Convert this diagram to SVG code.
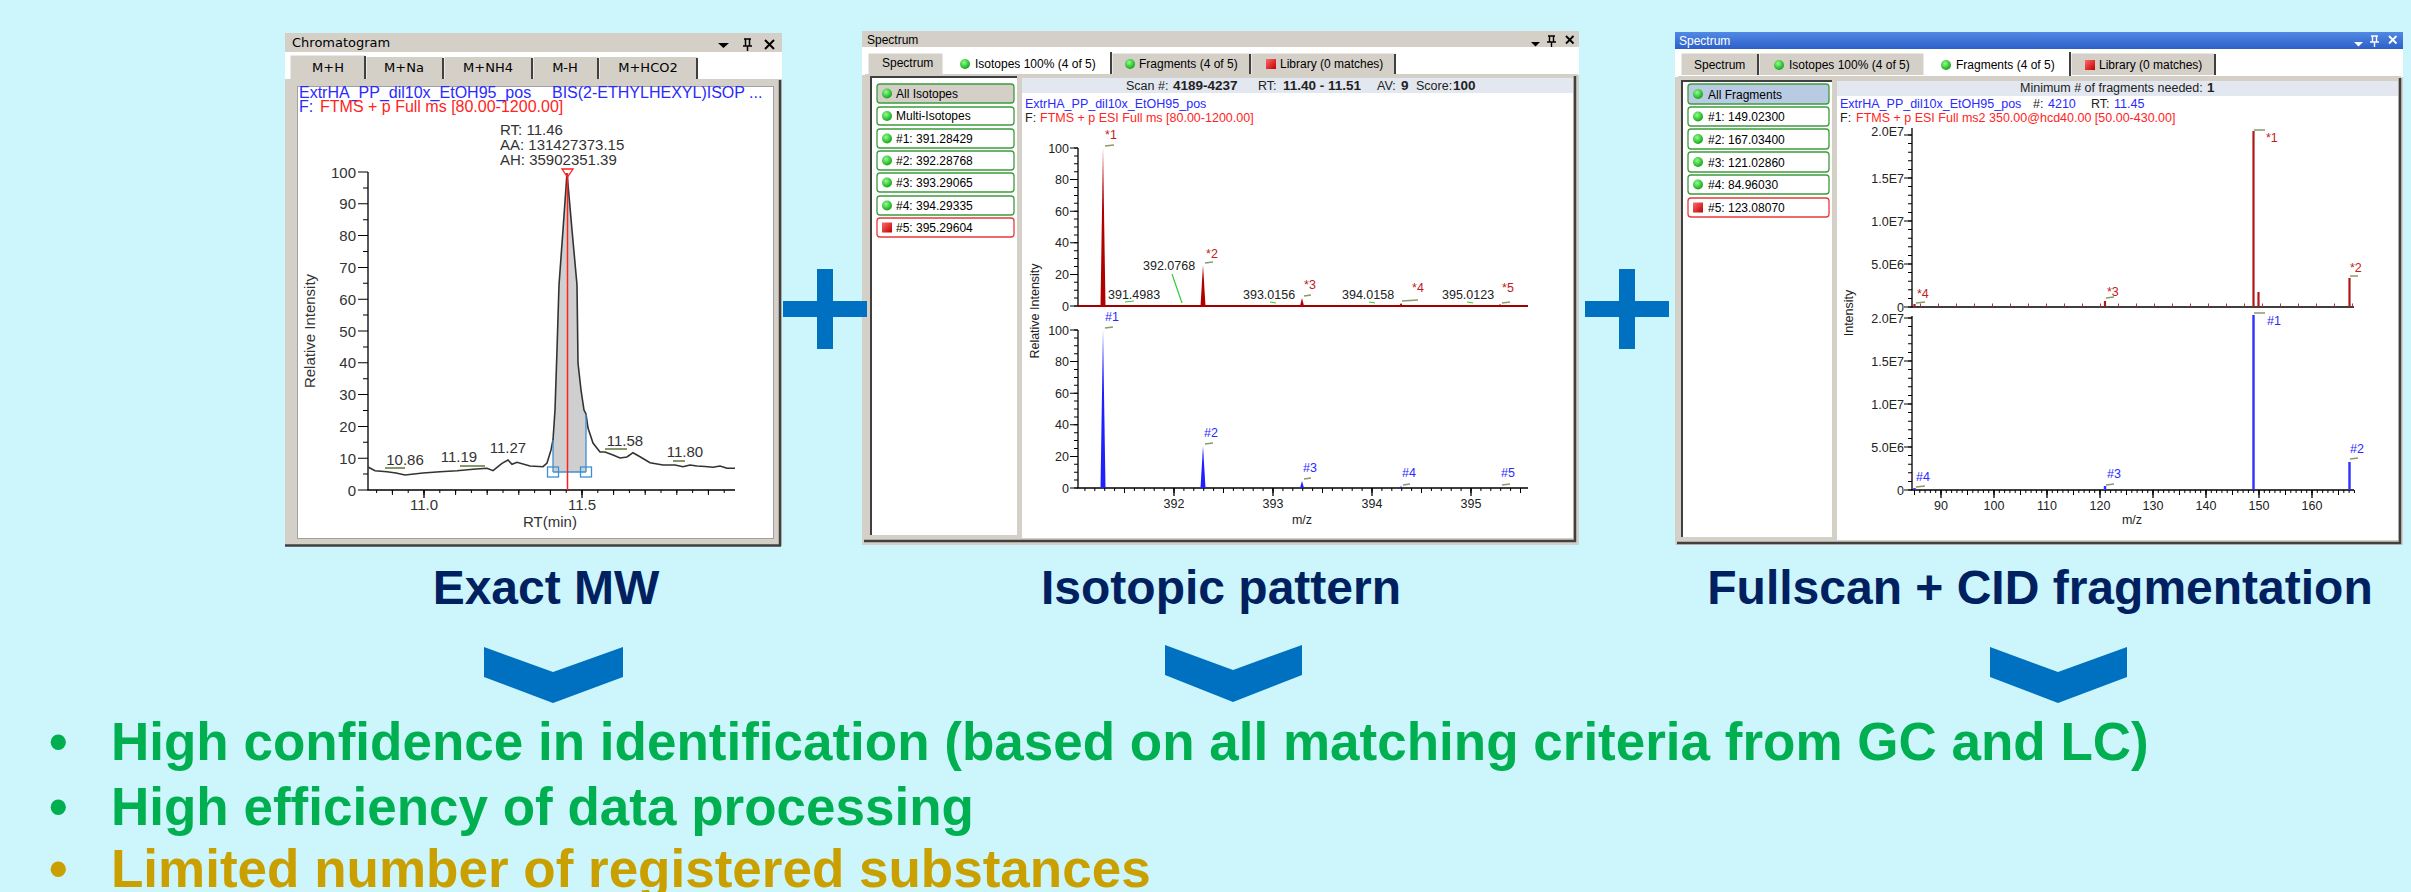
<svg xmlns="http://www.w3.org/2000/svg" width="2411" height="892" viewBox="0 0 2411 892">
<defs>
<style>
.ui{font-family:"Liberation Sans",Arial,sans-serif;font-size:12px;fill:#000}
.ui1{font-family:"DejaVu Sans",Verdana,sans-serif;font-size:13px;fill:#000}
.c1{font-family:"Liberation Sans",Arial,sans-serif;font-size:15px;fill:#333}
.c1b{font-family:"Liberation Sans",Arial,sans-serif;font-size:16px}
.c2{font-family:"Liberation Sans",Arial,sans-serif;font-size:12.5px;fill:#222}
.bd{font-weight:bold;font-size:13.5px}
.blue{fill:#2a2aff}
.red{fill:#ff2424}
.dred{fill:#c41a1a}
.mid{text-anchor:middle}
.end{text-anchor:end}
.head{font-family:"Liberation Sans",Arial,sans-serif;font-weight:bold;font-size:48px;fill:#002060;text-anchor:middle}
.bul{font-family:"Liberation Sans",Arial,sans-serif;font-weight:bold;font-size:53px}
.frame{fill:#d4d0c8}
.ax{stroke:#000;stroke-width:1.3;fill:none}
.tk{stroke:#000;fill:none}
.item{fill:#fff;stroke:#3c9c3c;stroke-width:1.3}
.itemr{fill:#fff;stroke:#e83a3a;stroke-width:1.3}
.mk{stroke:#8a9a6a;stroke-width:1.5;fill:none}
.gl{stroke:#3c3;stroke-width:1.2;fill:none}
.sep{stroke:#404040;stroke-width:2}
.blueshape{fill:#0070c0}
</style>
<radialGradient id="gdot" cx="0.4" cy="0.35" r="0.7"><stop offset="0" stop-color="#8cff8c"/><stop offset="1" stop-color="#0ca00c"/></radialGradient>
<linearGradient id="rsq" x1="0" y1="0" x2="1" y2="1"><stop offset="0" stop-color="#ff6a6a"/><stop offset="1" stop-color="#c00000"/></linearGradient>
<linearGradient id="tbar" x1="0" y1="0" x2="0" y2="1"><stop offset="0" stop-color="#5289e4"/><stop offset="1" stop-color="#2d60c8"/></linearGradient>
<circle id="gd" r="5" fill="url(#gdot)"/>
<rect id="rs" width="10" height="10" fill="url(#rsq)"/>
</defs>
<rect width="2411" height="892" fill="#ccf5fc"/>

<!-- ============ PANEL 1: CHROMATOGRAM ============ -->
<g id="panel-chromatogram">
<rect x="285" y="33" width="497" height="513" class="frame"/>
<rect x="285" y="52" width="497" height="27" fill="#fff"/>
<text x="292" y="47" class="ui1">Chromatogram</text>
<path d="M718 43 h11 l-5.5 5 z" fill="#000"/>
<path d="M744 39 h7 M745.5 39 v7 M749.5 39 v7 M743 46 h9 M747.5 46 v5" stroke="#000" stroke-width="1.5" fill="none"/>
<path d="M765 40 l9 9 M774 40 l-9 9" stroke="#000" stroke-width="2"/>
<rect x="290" y="55" width="75" height="26" class="frame"/>
<rect x="366" y="57" width="77" height="22" class="frame"/>
<rect x="444" y="57" width="88" height="22" class="frame"/>
<rect x="533" y="57" width="65" height="22" class="frame"/>
<rect x="599" y="57" width="98" height="22" class="frame"/>
<path d="M290 81 V55 H365 M366 79 V57 M444 79 V57 M533 79 V57 M599 79 V57" stroke="#fff" stroke-width="1" fill="none"/>
<path d="M365 56 V79 M443 58 V79 M532 58 V79 M598 58 V79 M697 58 V79" class="sep"/>
<text x="328" y="72" class="ui1 mid">M+H</text>
<text x="404" y="72" class="ui1 mid">M+Na</text>
<text x="488" y="72" class="ui1 mid">M+NH4</text>
<text x="565" y="72" class="ui1 mid">M-H</text>
<text x="648" y="72" class="ui1 mid">M+HCO2</text>
<rect x="288" y="79" width="492" height="466" class="frame"/>
<rect x="297.5" y="86.5" width="476" height="452" fill="#fff" stroke="#a0a0a0"/>
<path d="M780 80 V546 M285 545.5 H781" stroke="#404040" stroke-width="2.5"/>
<text x="299" y="98" class="c1b blue">ExtrHA_PP_dil10x_EtOH95_pos</text>
<text x="552" y="98" class="c1b blue">BIS(2-ETHYLHEXYL)ISOP ...</text>
<text x="299" y="112" class="c1b blue">F:</text>
<text x="320" y="112" class="c1b red">FTMS + p Full ms [80.00-1200.00]</text>
<text x="500" y="135" class="c1">RT: 11.46</text>
<text x="500" y="150" class="c1">AA: 131427373.15</text>
<text x="500" y="165" class="c1">AH: 35902351.39</text>
<path d="M368 172 V490 H735" class="ax"/>
<line x1="363" y1="171.5" x2="363" y2="491" class="tk" stroke-width="10" stroke-dasharray="1 30.8"/>
<line x1="365.5" y1="187.4" x2="365.5" y2="476" class="tk" stroke-width="5" stroke-dasharray="1 30.8"/>
<line x1="376.1" y1="491.5" x2="725" y2="491.5" class="tk" stroke-width="3" stroke-dasharray="1 14.8"/>
<line x1="391.9" y1="492.5" x2="710" y2="492.5" class="tk" stroke-width="5" stroke-dasharray="1 30.6"/>
<path d="M424 490 V498 M582 490 V498" class="tk" stroke-width="1.3"/>
<g class="c1 end">
<text x="356" y="177.5">100</text><text x="356" y="209.3">90</text><text x="356" y="241">80</text>
<text x="356" y="273">70</text><text x="356" y="304.7">60</text><text x="356" y="336.5">50</text>
<text x="356" y="368.3">40</text><text x="356" y="400">30</text><text x="356" y="432">20</text>
<text x="356" y="463.7">10</text><text x="356" y="495.5">0</text>
</g>
<text x="424" y="510" class="c1 mid">11.0</text>
<text x="582" y="510" class="c1 mid">11.5</text>
<text x="550" y="527" class="c1 mid">RT(min)</text>
<text transform="translate(315 331) rotate(-90)" class="c1 mid">Relative Intensity</text>
<polygon points="553,472 553,440 555,410 557,350 559,285 563,230 567,173 572,230 577,285 578,363 581,390 584,410 586,414 586,472" fill="#cfcfcf"/>
<polyline points="368,467 375,470.7 387,471.7 396,473 405,475 414,474 423,473 440,471.7 457,470.7 473,469.3 487,468.3 493,470.7 502,463.3 508,460 512,464.3 517,462.3 530,466 543,466.7 547,463 551,450 553,440 555,410 557,350 559,285 563,230 567,173 572,230 577,285 578,363 581,390 584,410 586,414 588,428 593,443 600,452 605,452 613,455 620,458 627,457 633,452.7 640,456.7 650,462.7 663,465 675,465 683,466.7 690,465 697,466 705,466.5 713,467.3 720,466 727,468.3 735,468.3" fill="none" stroke="#333" stroke-width="1.6"/>
<path d="M553 472 H586 M553 472 V440 M586 472 V414" stroke="#3d8fd6" stroke-width="1.3" fill="none"/>
<rect x="547.5" y="467" width="11" height="10" fill="none" stroke="#3d8fd6" stroke-width="1.3"/>
<rect x="580.5" y="467" width="11" height="10" fill="none" stroke="#3d8fd6" stroke-width="1.3"/>
<line x1="567.5" y1="173" x2="567.5" y2="490" stroke="#ff2020" stroke-width="1.5"/>
<polygon points="562,169 573,169 567.5,177" fill="none" stroke="#ff2020" stroke-width="1.3"/>
<text x="405" y="465" class="c1 mid">10.86</text>
<text x="459" y="462" class="c1 mid">11.19</text>
<text x="508" y="453" class="c1 mid">11.27</text>
<text x="625" y="446" class="c1 mid">11.58</text>
<text x="685" y="457" class="c1 mid">11.80</text>
<path d="M385 468 H405 M460 466 H485 M605 449 H627 M673 461 H685" stroke="#5c7a3a" stroke-width="1.3" fill="none"/>
</g>

<!-- ============ PANEL 2: ISOTOPES ============ -->
<g id="panel-isotopes">
<rect x="862" y="31" width="717" height="514" class="frame"/>
<rect x="862" y="47" width="717" height="28" fill="#fff"/>
<text x="867" y="44" class="ui">Spectrum</text>
<path d="M1531 42 h9 l-4.5 4.5 z" fill="#000"/>
<path d="M1548 36 h7 M1549.5 36 v6 M1553.5 36 v6 M1547 42 h9 M1551.5 42 v5" stroke="#000" stroke-width="1.4" fill="none"/>
<path d="M1566 36 l7.5 7.5 M1573.5 36 l-7.5 7.5" stroke="#000" stroke-width="1.8"/>
<rect x="868" y="53" width="75" height="21" class="frame"/>
<rect x="1111" y="53" width="139" height="21" class="frame"/>
<rect x="1250" y="53" width="145" height="21" class="frame"/>
<rect x="943" y="51" width="168" height="25" fill="#fff"/>
<path d="M868 74 V53 H943 M943 76 V51 H1111 M1112 74 V53 H1250 M1251 74 V53 H1395" stroke="#fff" fill="none"/>
<path d="M1111 52 V75 M1250 54 V74 M1395 54 V74" class="sep"/>
<text x="882" y="67" class="ui">Spectrum</text>
<use href="#gd" x="965" y="64"/>
<text x="975" y="68" class="ui">Isotopes 100% (4 of 5)</text>
<use href="#gd" x="1130" y="64"/>
<text x="1139" y="68" class="ui">Fragments (4 of 5)</text>
<use href="#rs" x="1266" y="59"/>
<text x="1280" y="68" class="ui">Library (0 matches)</text>
<rect x="865" y="74" width="713" height="470" class="frame"/>
<rect x="872" y="78" width="145" height="457" fill="#fff"/>
<path d="M871 535 V77 H1017" stroke="#404040" stroke-width="2" fill="none"/>
<rect x="1022" y="78" width="551" height="460" fill="#fff"/>
<path d="M1575 76 V541 H864" stroke="#404040" stroke-width="2.5" fill="none"/>
<rect x="877" y="84" width="137" height="19" rx="3" fill="#d4d0c8" stroke="#3c9c3c" stroke-width="1.3"/>
<rect x="877" y="107" width="137" height="18" rx="3" class="item"/>
<rect x="877" y="129" width="137" height="19" rx="3" class="item"/>
<rect x="877" y="151" width="137" height="19" rx="3" class="item"/>
<rect x="877" y="173" width="137" height="19" rx="3" class="item"/>
<rect x="877" y="196" width="137" height="19" rx="3" class="item"/>
<rect x="877" y="218" width="137" height="19" rx="3" class="itemr"/>
<use href="#gd" x="887" y="93.5"/><use href="#gd" x="887" y="116"/><use href="#gd" x="887" y="138.5"/>
<use href="#gd" x="887" y="160.5"/><use href="#gd" x="887" y="182.5"/><use href="#gd" x="887" y="205.5"/>
<use href="#rs" x="882" y="222.5"/>
<text x="896" y="98" class="ui">All Isotopes</text>
<text x="896" y="120" class="ui">Multi-Isotopes</text>
<text x="896" y="143" class="ui">#1: 391.28429</text>
<text x="896" y="165" class="ui">#2: 392.28768</text>
<text x="896" y="187" class="ui">#3: 393.29065</text>
<text x="896" y="210" class="ui">#4: 394.29335</text>
<text x="896" y="232" class="ui">#5: 395.29604</text>
<rect x="1022" y="78" width="551" height="15" fill="#e3e7ef"/>
<text x="1126" y="90" class="c2">Scan #:</text>
<text x="1173" y="90" class="c2 bd">4189-4237</text>
<text x="1258" y="90" class="c2">RT:</text>
<text x="1283" y="90" class="c2 bd">11.40 - 11.51</text>
<text x="1377" y="90" class="c2">AV:</text>
<text x="1401" y="90" class="c2 bd">9</text>
<text x="1416" y="90" class="c2">Score:</text>
<text x="1453" y="90" class="c2 bd">100</text>
<text x="1025" y="108" class="c2 blue">ExtrHA_PP_dil10x_EtOH95_pos</text>
<text x="1025" y="122" class="c2">F:</text>
<text x="1040" y="122" class="c2 red">FTMS + p ESI Full ms [80.00-1200.00]</text>
<path d="M1078 148 V306" class="ax"/>
<line x1="1074" y1="147.5" x2="1074" y2="307" class="tk" stroke-width="8" stroke-dasharray="1 30.6"/>
<line x1="1076" y1="147.5" x2="1076" y2="307" class="tk" stroke-width="4" stroke-dasharray="1 6.9"/>
<g class="c2 end">
<text x="1069" y="152.5">100</text><text x="1069" y="184">80</text><text x="1069" y="215.5">60</text>
<text x="1069" y="247">40</text><text x="1069" y="279">20</text><text x="1069" y="310.5">0</text>
</g>
<line x1="1078" y1="306" x2="1528" y2="306" stroke="#a00000" stroke-width="2"/>
<polygon points="1100.5,306 1103,148 1105.5,306" fill="#b00000"/>
<polygon points="1200.5,306 1203,265 1205.5,306" fill="#b00000"/>
<polygon points="1300,306 1302,298 1304,306" fill="#b00000"/>
<polygon points="1399,306 1401,303 1403,306" fill="#b00000"/>
<polygon points="1498,306 1500,304 1502,306" fill="#b00000"/>
<g class="c2 mid dred">
<text x="1111" y="139">*1</text><text x="1212" y="258">*2</text><text x="1310" y="289">*3</text>
<text x="1418" y="292">*4</text><text x="1508" y="292">*5</text>
</g>
<path d="M1105 146 L1114 145 M1205 263 L1213 262 M1304 296 L1311 295 M1402 301 L1418 300 M1502 303 L1510 302" class="mk"/>
<text x="1143" y="270" class="c2">392.0768</text>
<text x="1108" y="299" class="c2">391.4983</text>
<text x="1243" y="299" class="c2">393.0156</text>
<text x="1342" y="299" class="c2">394.0158</text>
<text x="1442" y="299" class="c2">395.0123</text>
<path d="M1172 274 L1182 303 M1125 302 L1134 301 M1270 302 L1276 303 M1369 302 L1375 303 M1467 302 L1473 303" class="gl"/>
<path d="M1078 330 V488 H1528" class="ax"/>
<line x1="1074" y1="329.5" x2="1074" y2="489" class="tk" stroke-width="8" stroke-dasharray="1 30.6"/>
<line x1="1076" y1="329.5" x2="1076" y2="489" class="tk" stroke-width="4" stroke-dasharray="1 6.9"/>
<line x1="1084.4" y1="489.5" x2="1521" y2="489.5" class="tk" stroke-width="3" stroke-dasharray="1 8.9"/>
<line x1="1124" y1="490.5" x2="1521" y2="490.5" class="tk" stroke-width="5" stroke-dasharray="1 48.5"/>
<path d="M1174 488 V496 M1273 488 V496 M1372 488 V496 M1471 488 V496" class="tk" stroke-width="1.3"/>
<g class="c2 end">
<text x="1069" y="334.5">100</text><text x="1069" y="366">80</text><text x="1069" y="397.5">60</text>
<text x="1069" y="429">40</text><text x="1069" y="461">20</text><text x="1069" y="492.5">0</text>
</g>
<g class="c2 mid">
<text x="1174" y="508">392</text><text x="1273" y="508">393</text><text x="1372" y="508">394</text><text x="1471" y="508">395</text>
<text x="1302" y="524">m/z</text>
</g>
<text transform="translate(1039 311) rotate(-90)" class="c2 mid">Relative Intensity</text>
<polygon points="1100.5,488 1103,330 1105.5,488" fill="#2020ff"/>
<polygon points="1200.5,488 1203,446 1205.5,488" fill="#2020ff"/>
<polygon points="1300,488 1302,481 1304,488" fill="#2020ff"/>
<polygon points="1399.5,488 1401,486 1402.5,488" fill="#2020ff"/>
<g class="c2 mid blue">
<text x="1112" y="321">#1</text><text x="1211" y="437">#2</text><text x="1310" y="472">#3</text>
<text x="1409" y="477">#4</text><text x="1508" y="477">#5</text>
</g>
<path d="M1105 328 L1113 327 M1205 444 L1213 443 M1304 479 L1311 478 M1403 485 L1410 484 M1502 485 L1510 484" class="mk"/>
</g>

<!-- ============ PANEL 3: FRAGMENTS ============ -->
<g id="panel-fragments">
<rect x="1675" y="32" width="728" height="513" class="frame"/>
<rect x="1675" y="32" width="728" height="17" fill="url(#tbar)"/>
<rect x="1675" y="49" width="728" height="28" fill="#fff"/>
<text x="1679" y="45" class="ui" style="fill:#fff">Spectrum</text>
<path d="M2354 42 h9 l-4.5 4.5 z" fill="#fff"/>
<path d="M2371 36 h7 M2372.5 36 v6 M2376.5 36 v6 M2370 42 h9 M2374.5 42 v5" stroke="#fff" stroke-width="1.4" fill="none"/>
<path d="M2389 36 l7.5 7.5 M2396.5 36 l-7.5 7.5" stroke="#fff" stroke-width="1.8"/>
<rect x="1681" y="53" width="77" height="22" class="frame"/>
<rect x="1758" y="53" width="166" height="22" class="frame"/>
<rect x="2070" y="53" width="145" height="22" class="frame"/>
<rect x="1924" y="51" width="146" height="26" fill="#fff"/>
<path d="M1681 75 V53 H1758 M1759 75 V53 H1924 M1924 77 V51 H2070 M2071 75 V53 H2215" stroke="#fff" fill="none"/>
<path d="M1758 54 V75 M2070 52 V76 M2215 54 V75" class="sep"/>
<text x="1694" y="69" class="ui">Spectrum</text>
<use href="#gd" x="1779" y="65"/>
<text x="1789" y="69" class="ui">Isotopes 100% (4 of 5)</text>
<use href="#gd" x="1946" y="65"/>
<text x="1956" y="69" class="ui">Fragments (4 of 5)</text>
<use href="#rs" x="2085" y="60"/>
<text x="2099" y="69" class="ui">Library (0 matches)</text>
<rect x="1678" y="76" width="723" height="468" class="frame"/>
<rect x="1683" y="82" width="149" height="455" fill="#fff"/>
<path d="M1682 537 V81 H1832" stroke="#404040" stroke-width="2" fill="none"/>
<rect x="1837" y="81" width="561" height="459" fill="#fff"/>
<path d="M2400 78 V543 H1677" stroke="#404040" stroke-width="2.5" fill="none"/>
<rect x="1688" y="84" width="141" height="20" rx="3" fill="#b9cbe3" stroke="#3c9c3c" stroke-width="1.3"/>
<rect x="1688" y="107" width="141" height="19" rx="3" class="item"/>
<rect x="1688" y="129" width="141" height="20" rx="3" class="item"/>
<rect x="1688" y="152" width="141" height="20" rx="3" class="item"/>
<rect x="1688" y="175" width="141" height="19" rx="3" class="item"/>
<rect x="1688" y="198" width="141" height="19" rx="3" class="itemr"/>
<use href="#gd" x="1698" y="94"/><use href="#gd" x="1698" y="116.5"/><use href="#gd" x="1698" y="139"/>
<use href="#gd" x="1698" y="162"/><use href="#gd" x="1698" y="184.5"/>
<use href="#rs" x="1693" y="202.5"/>
<text x="1708" y="98.5" class="ui">All Fragments</text>
<text x="1708" y="121" class="ui">#1: 149.02300</text>
<text x="1708" y="143.5" class="ui">#2: 167.03400</text>
<text x="1708" y="166.5" class="ui">#3: 121.02860</text>
<text x="1708" y="189" class="ui">#4: 84.96030</text>
<text x="1708" y="212" class="ui">#5: 123.08070</text>
<rect x="1837" y="81" width="561" height="15" fill="#e3e7ef"/>
<text x="2020" y="92" class="c2">Minimum # of fragments needed:</text>
<text x="2207" y="92" class="c2 bd">1</text>
<text x="1840" y="108" class="c2 blue">ExtrHA_PP_dil10x_EtOH95_pos</text>
<text x="2033" y="108" class="c2">#:</text>
<text x="2048" y="108" class="c2 blue">4210</text>
<text x="2091" y="108" class="c2">RT:</text>
<text x="2114" y="108" class="c2 blue">11.45</text>
<text x="1840" y="122" class="c2">F:</text>
<text x="1856" y="122" class="c2 red">FTMS + p ESI Full ms2 350.00@hcd40.00 [50.00-430.00]</text>
<path d="M1912 128 V307 H2354" class="ax"/>
<line x1="1908" y1="134.5" x2="1908" y2="308" class="tk" stroke-width="8" stroke-dasharray="1 42"/>
<line x1="1910" y1="134.5" x2="1910" y2="308" class="tk" stroke-width="4" stroke-dasharray="1 7.6"/>
<line x1="1920" y1="305" x2="2354" y2="305" stroke="#c03030" stroke-width="3" stroke-dasharray="1 17"/>
<g class="c2 end">
<text x="1904" y="136">2.0E7</text><text x="1904" y="182.5">1.5E7</text><text x="1904" y="225.5">1.0E7</text>
<text x="1904" y="268.5">5.0E6</text><text x="1904" y="311.5">0</text>
</g>
<path d="M2253.5 307 V131 M2258.5 307 V292 M2349.5 307 V278 M2105 307 V301 M1914.5 307 V304" stroke="#b01818" stroke-width="2.2" fill="none"/>
<g class="c2 dred">
<text x="2266" y="142">*1</text><text x="2350" y="272">*2</text><text x="2107" y="296">*3</text><text x="1917" y="298">*4</text>
</g>
<path d="M2254 130 H2265 M2350 276 H2358 M2106 298 L2114 297 M1916 303 L1925 302" class="mk"/>
<text transform="translate(1853 313) rotate(-90)" class="c2 mid">Intensity</text>
<path d="M1912 316 V490 H2354" class="ax"/>
<line x1="1908" y1="317.5" x2="1908" y2="491" class="tk" stroke-width="8" stroke-dasharray="1 42"/>
<line x1="1910" y1="317.5" x2="1910" y2="491" class="tk" stroke-width="4" stroke-dasharray="1 7.6"/>
<line x1="1914" y1="491.5" x2="2355" y2="491.5" class="tk" stroke-width="3" stroke-dasharray="1 4.3"/>
<line x1="1914" y1="492.5" x2="2355" y2="492.5" class="tk" stroke-width="5" stroke-dasharray="1 25.5"/>
<path d="M1941 490 V498 M1994 490 V498 M2047 490 V498 M2100 490 V498 M2153 490 V498 M2206 490 V498 M2259 490 V498 M2312 490 V498" class="tk" stroke-width="1.3"/>
<g class="c2 end">
<text x="1904" y="322.5">2.0E7</text><text x="1904" y="365.5">1.5E7</text><text x="1904" y="408.5">1.0E7</text>
<text x="1904" y="451.5">5.0E6</text><text x="1904" y="494.5">0</text>
</g>
<g class="c2 mid">
<text x="1941" y="510">90</text><text x="1994" y="510">100</text><text x="2047" y="510">110</text><text x="2100" y="510">120</text>
<text x="2153" y="510">130</text><text x="2206" y="510">140</text><text x="2259" y="510">150</text><text x="2312" y="510">160</text>
<text x="2132" y="524">m/z</text>
</g>
<path d="M2253.5 490 V315 M2349.5 490 V462 M2105 490 V486 M1914.5 490 V488" stroke="#3030ff" stroke-width="2.4" fill="none"/>
<g class="c2 blue">
<text x="2267" y="325">#1</text><text x="2350" y="453">#2</text><text x="2107" y="478">#3</text><text x="1916" y="481">#4</text>
</g>
<path d="M2254 313 H2265 M2350 459 L2358 458 M2106 485 L2114 484 M1916 487 L1925 486" class="mk"/>
</g>

<!-- ============ PLUS SIGNS ============ -->
<g id="plus-1"><rect x="783" y="301" width="84" height="16" class="blueshape"/><rect x="817" y="269" width="16" height="80" class="blueshape"/></g>
<g id="plus-2"><rect x="1585" y="301" width="84" height="16" class="blueshape"/><rect x="1619" y="269" width="16" height="80" class="blueshape"/></g>

<!-- ============ HEADINGS ============ -->
<g id="label-exact-mw"><text x="546" y="604" class="head">Exact MW</text></g>
<g id="label-isotopic"><text x="1221" y="604" class="head">Isotopic pattern</text></g>
<g id="label-fullscan"><text x="2040" y="604" class="head">Fullscan + CID fragmentation</text></g>

<!-- ============ CHEVRONS ============ -->
<g id="connectors">
<polygon points="484,647 553,672 623,647 623,677 553,703 484,677" class="blueshape"/>
<polygon points="1165,645 1233,670 1302,645 1302,675 1233,702 1165,675" class="blueshape"/>
<polygon points="1990,647 2058,672 2127,647 2127,677 2058,703 1990,677" class="blueshape"/>
</g>

<!-- ============ BULLETS ============ -->
<g id="bullets">
<text x="49" y="760" class="bul" fill="#00b050">•</text>
<text x="111" y="760" class="bul" fill="#00b050">High confidence in identification (based on all matching criteria from GC and LC)</text>
<text x="49" y="825" class="bul" fill="#00b050">•</text>
<text x="111" y="825" class="bul" fill="#00b050">High efficiency of data processing</text>
<text x="49" y="887" class="bul" fill="#c9a000">•</text>
<text x="111" y="887" class="bul" fill="#c9a000">Limited number of registered substances</text>
</g>
</svg>
